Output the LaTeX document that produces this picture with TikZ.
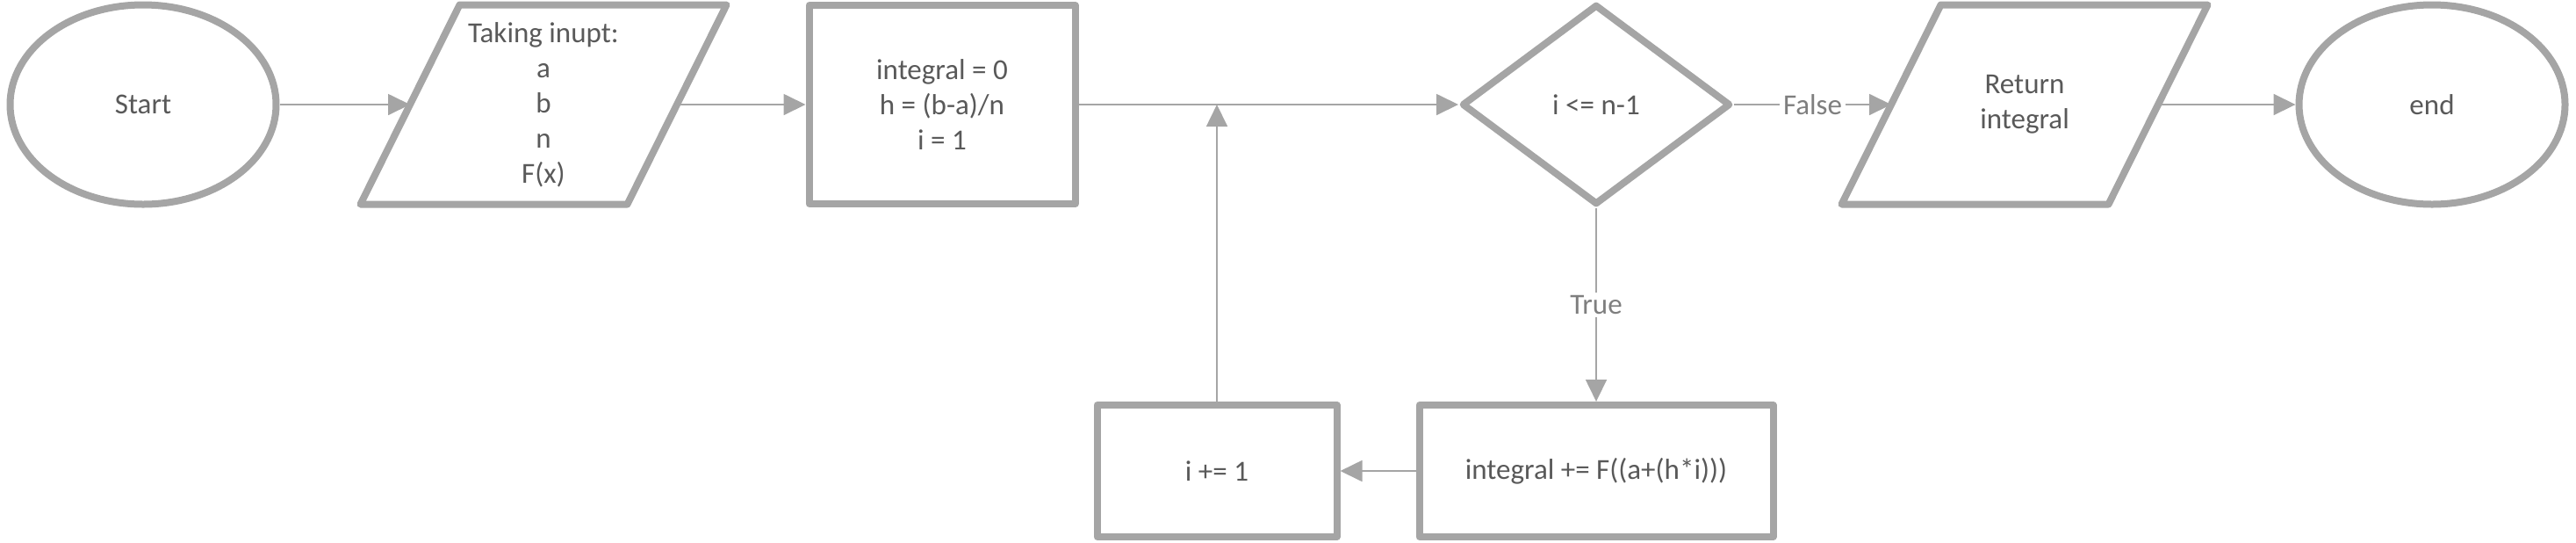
\documentclass[tikz,border=0pt]{standalone}
\usepackage{fontspec}
\setmainfont{Carlito}
\usepackage{tikz}
\usetikzlibrary{shapes.geometric, arrows.meta}

\definecolor{linegray}{HTML}{A5A5A5}
\definecolor{textgray}{HTML}{595959}
\definecolor{labelgray}{HTML}{7F7F7F}

\tikzset{
  border/.style = {draw=linegray, line width=0.08cm, line join=round},
  box/.style = {border, text=textgray, align=center, font=\fontsize{9.4}{11.4}\selectfont},
  terminal/.style = {box, ellipse, minimum width=3.03cm, minimum height=2.27cm},
  io/.style = {box, rectangle, draw=none, outer sep=0pt, minimum width=3.04cm, minimum height=2.27cm},
  process/.style = {box, rectangle, minimum width=3.03cm, minimum height=2.26cm},
  decision/.style = {box, diamond, minimum width=3.06cm, minimum height=2.28cm},
  flow/.style = {draw=linegray, line width=0.5pt, -{Triangle[length=0.25cm, width=0.24cm]}},
  flowlabel/.style = {midway, fill=white, text=labelgray, inner sep=1pt,
                      font=\fontsize{9.4}{11.4}\selectfont}
}

\begin{document}
\begin{tikzpicture}

  \useasboundingbox (0, 0) rectangle (29.34, -6.17);

  \node[terminal] (start) at ( 1.63, -1.19) {Start};
  \node[io]       (input) at ( 6.19, -1.19) {Taking inupt:\\a\\b\\n\\F(x)};
  \node[process]  (init)  at (10.73, -1.19) {integral = 0\\h = (b-a)/n\\i = 1};
  \node[decision] (cond)  at (18.18, -1.19) {i <= n-1};
  \node[io]       (ret)   at (23.06, -1.19) {Return\\integral};
  \node[terminal] (stop)  at (27.70, -1.19) {end};

  \node[process, minimum width=2.73cm, minimum height=1.50cm] (inc)   at (13.86, -5.36) {i += 1};
  \node[process, minimum width=4.03cm, minimum height=1.50cm] (accum) at (18.18, -5.36) {integral += F((a+(h*i)))};

  % slanted input/output boxes
  \foreach \n in {input, ret} {
    \draw[border] ([xshift=0.565cm]\n.north west) -- ([xshift=0.565cm]\n.north east)
      -- ([xshift=-0.565cm]\n.south east) -- ([xshift=-0.565cm]\n.south west) -- cycle;
  }

  \draw[flow] (start) -- (input);
  \draw[flow] (input) -- (init);
  \draw[flow] (init) -- (cond);
  \draw[flow] (cond) -- node[flowlabel] {False} (ret);
  \draw[flow] (ret) -- (stop);
  \draw[flow] (cond) -- node[flowlabel] {True} (accum);
  \draw[flow] (accum) -- (inc);
  \draw[flow] (inc) -- (inc |- init);

\end{tikzpicture}
\end{document}
